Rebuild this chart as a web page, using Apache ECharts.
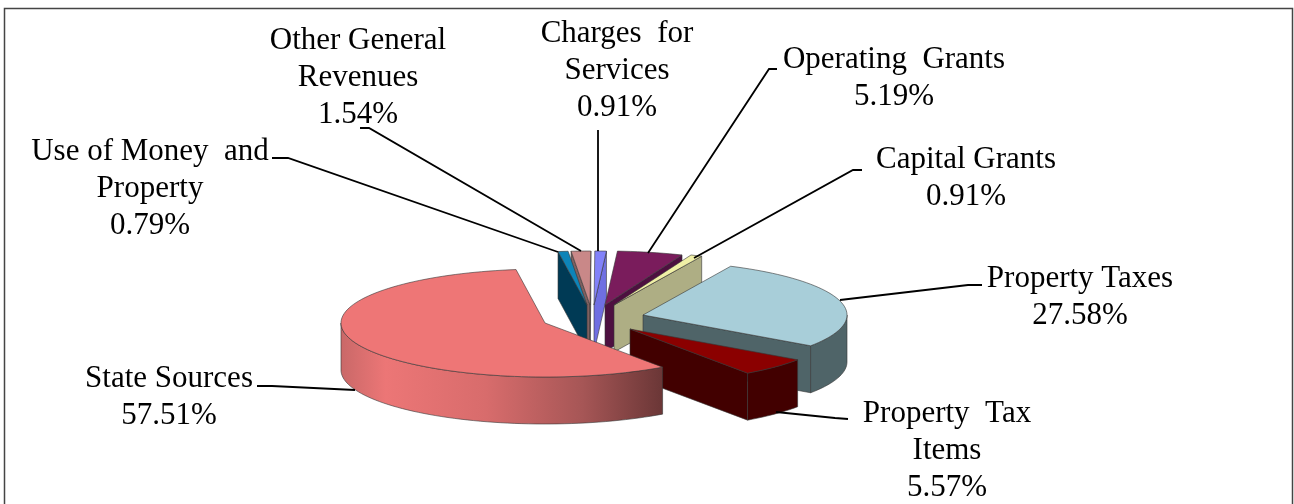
<!DOCTYPE html>
<html><head><meta charset="utf-8">
<style>html,body{margin:0;padding:0;background:#fff}#c{width:1294px;height:504px}</style>
<script src="https://cdn.jsdelivr.net/npm/echarts@6/dist/echarts.min.js"></script>
</head><body><div id="c"></div>
<script>
// Data, clockwise from the top of the pie
var categories = ['Operating Grants','Capital Grants','Property Taxes','Property Tax Items','State Sources','Use of Money and Property','Other General Revenues','Charges for Services'];
var shares = [5.19,0.91,27.58,5.57,57.51,0.79,1.54,0.91];
var labelLines = ['Operating  Grants','Capital Grants','Property Taxes','Property  Tax\nItems','State Sources','Use of Money  and\nProperty','Other General\nRevenues','Charges  for\nServices'];

// Layout and styling
var RX=204, RY=54, DEPTH=47, ROT=3.5;
var apex = [[605,305],[614,305],[643,315],[630,329],[545,323],[587,305],[590,305],[594,305]];
var drawOrder = [6,5,7,0,1,2,3,4];
var topColor = ['#7a1c5c','#f0f0a6','#a8ced9','#8b0000','#ee7676','#0d84b8','#c98888','#8282fa'];
var wallColor = ['#4d1040','#aeae84','#4f6468','#420000','#a85555','#003a55','#7f6060','#6f6fe2'];
var textCenter = [[894,78],[966,178],[1080,297],[947,451],[169,397],[150,189],[358,78],[617,71]];
var leaders = [
  [[777,69],[769,69],[648,253]],
  [[862,170],[853,170],[694,258]],
  [[982,285],[968,285],[840,300]],
  [[848,419],[835,418],[776,412]],
  [[257,386],[272,386],[355,390]],
  [[272,158],[288,158],[558,252]],
  [[360,128],[369,128],[581,251]],
  [[598,130],[598,251]]
];

var total = shares.reduce(function(a,b){return a+b;},0);
var starts = [], acc = 0;
shares.forEach(function(v){ starts.push(acc/total*360+ROT); acc+=v; });

function pt(c,deg,dy){
  var r=deg*Math.PI/180;
  return [c[0]+RX*Math.sin(r), c[1]-RY*Math.cos(r)+(dy||0)];
}
function arc(c,a,b,dy){
  var out=[], n=Math.max(2,Math.ceil(Math.abs(b-a)/2));
  for(var i=0;i<=n;i++) out.push(pt(c,a+(b-a)*i/n,dy));
  return out;
}
var EDGE='rgba(55,55,55,0.6)';
function poly(points,fill,stroke){
  return {type:'polygon',shape:{points:points},style:{fill:fill,stroke:stroke||EDGE,lineWidth:1,lineJoin:'round'}};
}
function renderItem(params,api){
  var i=api.value(0), v=api.value(1);
  var a=starts[i], b=a+v/total*360, c=apex[i], kids=[], dn=[c[0],c[1]+DEPTH];
  var sa=Math.sin(a*Math.PI/180), sb=Math.sin(b*Math.PI/180);
  // start cut face (left half of the pie)
  if(sa<0){ var p=pt(c,a),q=pt(c,a,DEPTH); kids.push(poly([c,p,q,dn],wallColor[i])); }
  // end cut face (right half of the pie)
  if(sb>0){ var p2=pt(c,b),q2=pt(c,b,DEPTH); kids.push(poly([c,p2,q2,dn],wallColor[i])); }
  // rim
  var ra=Math.max(a,90), rb=Math.min(b,270);
  if(rb>ra){
    var top=arc(c,ra,rb,0), bot=arc(c,ra,rb,DEPTH).reverse();
    var fill=wallColor[i];
    if(categories[i]==='State Sources'){
      fill={type:'linear',x:1,y:0,x2:0,y2:0,colorStops:[
        {offset:0,color:'#6a3636'},{offset:.25,color:'#a65656'},{offset:.55,color:'#d86c6c'},
        {offset:.86,color:'#ec7676'},{offset:1,color:'#c96868'}]};
    }
    kids.push(poly(top.concat(bot),fill));
  }
  // top face
  kids.push(poly([c].concat(arc(c,a,b,0)),topColor[i]));
  return {type:'group',children:kids};
}

var graphics=[
  {type:'rect',shape:{x:4.5,y:8.5,width:1288,height:520},style:{fill:'none',stroke:'#444',lineWidth:1.5},z:1}
];
leaders.forEach(function(l){
  graphics.push({type:'polyline',shape:{points:l},style:{fill:'none',stroke:'#000',lineWidth:1.8},z:20});
});
categories.forEach(function(n,i){
  graphics.push({type:'text',x:textCenter[i][0],y:textCenter[i][1],z:20,
    style:{text:labelLines[i]+'\n'+shares[i].toFixed(2)+'%',font:'31px "Liberation Serif"',lineHeight:37,fill:'#000',align:'center',verticalAlign:'middle'}});
});

var chart=echarts.init(document.getElementById('c'),null,{renderer:'canvas'});
chart.setOption({
  animation:false,
  backgroundColor:'#fff',
  graphic:graphics,
  series:[{type:'custom',coordinateSystem:'none',renderItem:renderItem,silent:true,
    encode:{x:0,y:1},
    data:drawOrder.map(function(i){return [i,shares[i]];})}]
});
</script></body></html>
